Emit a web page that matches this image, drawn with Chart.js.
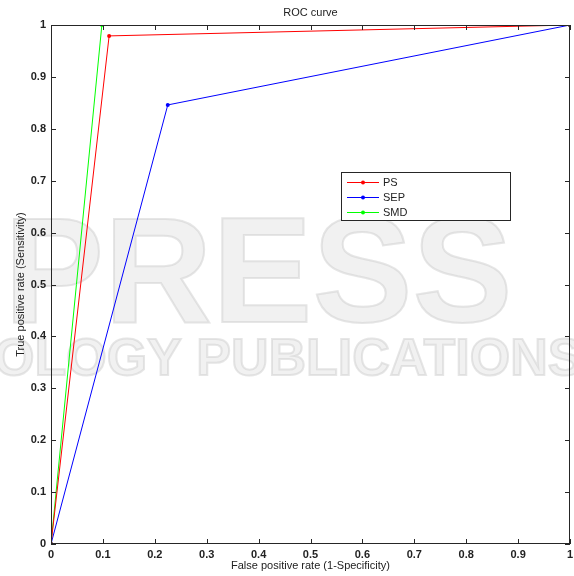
<!DOCTYPE html>
<html>
<head>
<meta charset="utf-8">
<script src="https://cdn.jsdelivr.net/npm/chart.js@4"></script>
<style>
  html, body { margin: 0; padding: 0; background: #fff; }
  #wrap { width: 574px; height: 576px; }
</style>
</head>
<body>
<div id="wrap"><canvas id="roc" width="574" height="576"></canvas></div>
<script>
// ROC points
const psFpr = [0, 0.112, 1];
const psTpr = [0, 0.979, 1];
const sepFpr = [0, 0.225, 1];
const sepTpr = [0, 0.846, 1];
const smdFpr = [0, 0.098, 1];
const smdTpr = [0, 1, 1];
const seriesNames = ['PS', 'SEP', 'SMD'];
const seriesColors = ['#ff0000', '#0000ff', '#00ff00'];
const axisTicks = [0, 0.1, 0.2, 0.3, 0.4, 0.5, 0.6, 0.7, 0.8, 0.9, 1];

const FONT = 'Liberation Sans, Arial, sans-serif';

function toPoints(xs, ys) {
  return xs.map((x, i) => ({ x: x, y: ys[i] }));
}

function makeSet(i, xs, ys) {
  return {
    label: seriesNames[i],
    data: toPoints(xs, ys),
    showLine: true,
    borderColor: seriesColors[i],
    backgroundColor: seriesColors[i],
    borderWidth: 1,
    pointRadius: 2,
    pointBorderWidth: 0,
    tension: 0
  };
}

// MATLAB prints 1 and 0, not 1.0
function tickText(v) {
  return String(Math.round(v * 10) / 10);
}

// watermark behind everything
const watermark = {
  id: 'watermark',
  beforeDraw(chart) {
    const c = chart.ctx;
    c.save();
    c.fillStyle = '#ffffff';
    c.fillRect(0, 0, chart.width, chart.height);
    c.fillStyle = 'rgba(215,215,215,0.35)';
    c.strokeStyle = 'rgba(205,205,205,0.5)';
    c.lineWidth = 2;
    c.textBaseline = 'alphabetic';
    c.font = 'bold 150px ' + FONT;
    c.fillText('PRESS', 4, 322);
    c.strokeText('PRESS', 4, 322);
    c.font = 'bold 52px ' + FONT;
    c.fillText('OLOGY PUBLICATIONS', -6, 375);
    c.strokeText('OLOGY PUBLICATIONS', -6, 375);
    c.restore();
  }
};

// MATLAB style box, inward ticks, titles and legend
const frame = {
  id: 'frame',
  afterDatasetsDraw(chart) {
    const c = chart.ctx;
    const a = chart.chartArea;
    const xs = chart.scales.x, ys = chart.scales.y;
    c.save();
    c.strokeStyle = '#262626';
    c.lineWidth = 1;
    c.strokeRect(a.left + 0.5, a.top + 0.5, a.right - a.left - 1, a.bottom - a.top - 1);
    c.beginPath();
    axisTicks.forEach(v => {
      const px = Math.round(xs.getPixelForValue(v)) + 0.5;
      c.moveTo(px, a.bottom); c.lineTo(px, a.bottom - 5);
      c.moveTo(px, a.top); c.lineTo(px, a.top + 5);
      const py = Math.round(ys.getPixelForValue(v)) + 0.5;
      c.moveTo(a.left, py); c.lineTo(a.left + 5, py);
      c.moveTo(a.right, py); c.lineTo(a.right - 5, py);
    });
    c.stroke();

    // titles
    c.fillStyle = '#222';
    c.textAlign = 'center';
    c.textBaseline = 'middle';
    c.font = '11px ' + FONT;
    c.fillText('ROC curve', (a.left + a.right) / 2, 13);
    c.fillText('False positive rate (1-Specificity)', (a.left + a.right) / 2, 566);
    c.save();
    c.translate(21, (a.top + a.bottom) / 2);
    c.rotate(-Math.PI / 2);
    c.fillText('True positive rate (Sensitivity)', 0, 0);
    c.restore();

    // legend box
    const lx = 341, ly = 172, lw = 169, lh = 48;
    c.fillStyle = '#fff';
    c.fillRect(lx, ly, lw, lh);
    c.strokeStyle = '#262626';
    c.strokeRect(lx + 0.5, ly + 0.5, lw, lh);
    c.textAlign = 'left';
    c.font = '11px ' + FONT;
    chart.data.datasets.forEach((ds, i) => {
      const y = ly + 10 + i * 15;
      c.strokeStyle = ds.borderColor;
      c.beginPath();
      c.moveTo(347, y + 0.5); c.lineTo(379, y + 0.5);
      c.stroke();
      c.fillStyle = ds.borderColor;
      c.beginPath();
      c.arc(363, y + 0.5, 2, 0, Math.PI * 2);
      c.fill();
      c.fillStyle = '#222';
      c.fillText(ds.label, 383, y + 1);
    });
    c.restore();
  }
};

new Chart(document.getElementById('roc'), {
  type: 'scatter',
  data: {
    datasets: [
      makeSet(0, psFpr, psTpr),
      makeSet(1, sepFpr, sepTpr),
      makeSet(2, smdFpr, smdTpr)
    ]
  },
  options: {
    responsive: false,
    animation: false,
    layout: { padding: { top: 25, right: 4, left: 0, bottom: 0 } },
    plugins: {
      legend: { display: false },
      title: { display: false },
      tooltip: { enabled: false }
    },
    scales: {
      x: {
        type: 'linear',
        min: 0, max: 1,
        afterBuildTicks(s) { s.ticks = axisTicks.map(v => ({ value: v })); },
        afterFit(s) { s.height = 32; s.paddingRight = 0; },
        grid: { display: false, drawTicks: false },
        border: { display: false },
        ticks: { padding: 4, color: '#222', callback: tickText, font: { family: FONT, size: 11, weight: 'bold' }, maxRotation: 0 }
      },
      y: {
        type: 'linear',
        min: 0, max: 1,
        afterBuildTicks(s) { s.ticks = axisTicks.map(v => ({ value: v })); },
        afterFit(s) { s.width = 51; },
        grid: { display: false, drawTicks: false },
        border: { display: false },
        ticks: { padding: 5, color: '#222', callback: tickText, font: { family: FONT, size: 11, weight: 'bold' } }
      }
    }
  },
  plugins: [watermark, frame]
});
</script>
</body>
</html>
